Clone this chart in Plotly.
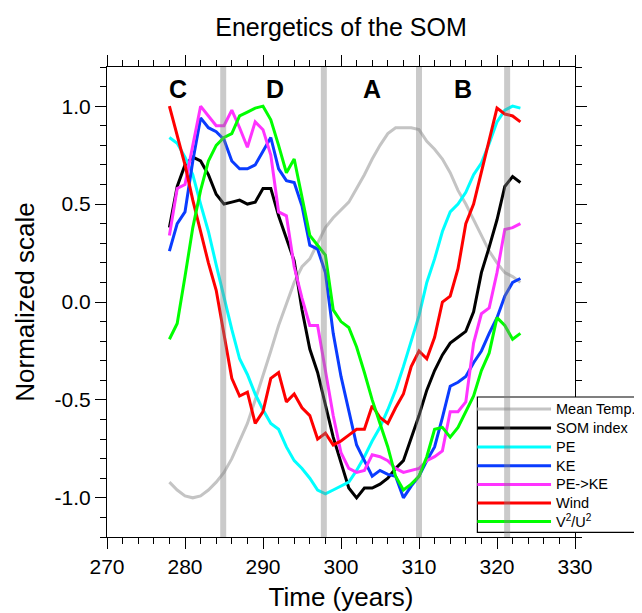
import plotly.graph_objects as go

# annual data, years 278..323
years = [278, 279, 280, 281, 282, 283, 284, 285, 286, 287,
         288, 289, 290, 291, 292, 293, 294, 295, 296, 297,
         298, 299, 300, 301, 302, 303, 304, 305, 306, 307,
         308, 309, 310, 311, 312, 313, 314, 315, 316, 317,
         318, 319, 320, 321, 322, 323]

mean_temp = [-0.92, -0.96, -0.99, -1.00, -0.99, -0.96, -0.92, -0.87, -0.80, -0.71,
             -0.62, -0.50, -0.38, -0.25, -0.12, -0.01, 0.10, 0.18, 0.22, 0.30,
             0.38, 0.43, 0.47, 0.51, 0.58, 0.65, 0.73, 0.80, 0.86, 0.89,
             0.89, 0.89, 0.88, 0.82, 0.78, 0.73, 0.66, 0.57, 0.50, 0.42,
             0.34, 0.26, 0.20, 0.15, 0.13, 0.10]
som_index = [0.38, 0.59, 0.70, 0.74, 0.72, 0.65, 0.55, 0.50, 0.51, 0.52,
             0.50, 0.51, 0.58, 0.58, 0.44, 0.32, 0.21, -0.04, -0.24, -0.36,
             -0.52, -0.69, -0.82, -0.95, -1.00, -0.95, -0.95, -0.93, -0.90, -0.85,
             -0.81, -0.70, -0.58, -0.45, -0.35, -0.27, -0.21, -0.18, -0.15, -0.05,
             0.15, 0.28, 0.42, 0.59, 0.64, 0.61]
pe = [0.84, 0.81, 0.74, 0.65, 0.50, 0.36, 0.19, 0.02, -0.14, -0.29,
      -0.37, -0.47, -0.55, -0.62, -0.65, -0.74, -0.81, -0.85, -0.90, -0.96,
      -0.98, -0.96, -0.94, -0.92, -0.86, -0.79, -0.71, -0.64, -0.55, -0.45,
      -0.33, -0.20, -0.07, 0.10, 0.22, 0.36, 0.46, 0.50, 0.56, 0.65,
      0.71, 0.81, 0.92, 0.98, 1.00, 0.99]
ke = [0.26, 0.40, 0.46, 0.72, 0.94, 0.89, 0.87, 0.83, 0.72, 0.68,
      0.68, 0.70, 0.77, 0.84, 0.68, 0.62, 0.61, 0.49, 0.29, 0.27,
      0.15, -0.16, -0.38, -0.56, -0.73, -0.81, -0.89, -0.86, -0.88, -0.89,
      -1.00, -0.94, -0.89, -0.81, -0.74, -0.59, -0.43, -0.41, -0.38, -0.31,
      -0.25, -0.16, -0.08, 0.03, 0.10, 0.12]
pe_ke = [0.34, 0.58, 0.60, 0.80, 1.00, 0.95, 0.90, 0.90, 0.98, 0.89,
         0.79, 0.92, 0.88, 0.75, 0.46, 0.44, 0.18, 0.02, -0.12, -0.12,
         -0.36, -0.58, -0.77, -0.85, -0.87, -0.86, -0.78, -0.79, -0.81, -0.85,
         -0.87, -0.86, -0.85, -0.81, -0.79, -0.76, -0.56, -0.56, -0.51, -0.21,
         -0.06, -0.03, 0.15, 0.37, 0.38, 0.40]
wind = [1.00, 0.85, 0.70, 0.52, 0.36, 0.20, 0.06, -0.16, -0.39, -0.48,
        -0.46, -0.62, -0.56, -0.39, -0.36, -0.51, -0.47, -0.54, -0.58, -0.70,
        -0.67, -0.73, -0.71, -0.68, -0.65, -0.65, -0.53, -0.59, -0.62, -0.54,
        -0.47, -0.33, -0.25, -0.29, -0.18, 0.00, 0.03, 0.17, 0.40, 0.50,
        0.66, 0.83, 0.99, 0.96, 0.95, 0.92]
v2u2 = [-0.19, -0.11, 0.13, 0.38, 0.57, 0.72, 0.80, 0.84, 0.86, 0.95,
        0.97, 0.99, 1.00, 0.93, 0.80, 0.66, 0.73, 0.54, 0.34, 0.29,
        0.24, -0.04, -0.10, -0.13, -0.23, -0.36, -0.50, -0.62, -0.74, -0.89,
        -0.96, -0.93, -0.89, -0.79, -0.65, -0.64, -0.69, -0.64, -0.56, -0.48,
        -0.35, -0.26, -0.08, -0.12, -0.19, -0.16]

series_names = ["Mean Temp.", "SOM index", "PE", "KE", "PE->KE", "Wind", "V<sup>2</sup>/U<sup>2</sup>"]
series_values = [mean_temp, som_index, pe, ke, pe_ke, wind, v2u2]
series_colors = ["#c4c4c4", "black", "#00ffff", "#0a3cff", "#ff33ff", "#ff0000", "#00ff00"]

# phase labels and phase boundaries
phase_labels = ["C", "D", "A", "B"]
phase_x = [279.1, 291.6, 304.0, 315.7]
phase_y = 1.087
band_x = [284.9, 297.8, 310.0, 321.3]

y_ticks = [-1.0, -0.5, 0.0, 0.5, 1.0]
y_ticktext = ["-1.0", "-0.5", "0.0", "0.5", "1.0"]

FONT = "Liberation Sans, Arial, Helvetica, sans-serif"

fig = go.Figure()
for name, vals, col in zip(series_names, series_values, series_colors):
    fig.add_trace(go.Scatter(x=years, y=vals, mode="lines", name=name,
                             line=dict(color=col, width=3), showlegend=False))

for lab, px in zip(phase_labels, phase_x):
    fig.add_annotation(x=px, y=phase_y, text="<b>" + lab + "</b>", showarrow=False,
                       font=dict(family=FONT, size=25, color="black"))

# legend drawn by hand so the grey band can run across it
leg_x0, leg_x1, leg_xt = 0.7914, 0.9488, 0.9580
leg_rows = [0.2723, 0.2319, 0.1915, 0.1517, 0.1119, 0.0723, 0.0332]
fig.add_shape(type="rect", xref="paper", yref="paper", x0=leg_x0, x1=1.25,
              y0=0.0098, y1=0.2979, fillcolor="white",
              line=dict(color="black", width=1.2), layer="above")
for name, col, ry in zip(series_names, series_colors, leg_rows):
    fig.add_shape(type="line", xref="paper", yref="paper", x0=leg_x0, x1=leg_x1,
                  y0=ry, y1=ry, line=dict(color=col, width=3), layer="above")
    fig.add_annotation(xref="paper", yref="paper", x=leg_xt, y=ry, text=name,
                       xanchor="left", yanchor="middle", showarrow=False, borderpad=0,
                       font=dict(family=FONT, size=14.5, color="black"))

for bx in band_x:
    fig.add_shape(type="line", xref="x", yref="y", x0=bx, x1=bx, y0=-1.2, y1=1.2,
                  line=dict(color="rgba(128,128,128,0.42)", width=6), layer="above")

axis_common = dict(showline=True, linecolor="black", linewidth=1.2, mirror="ticks",
                   ticks="outside", ticklen=11, tickwidth=1.2, tickcolor="black",
                   showgrid=False, zeroline=False,
                   tickfont=dict(family=FONT, size=21, color="black"))

fig.update_xaxes(range=[270, 330], tick0=270, dtick=10,
                 minor=dict(dtick=2, tick0=270, ticks="outside", ticklen=6,
                            tickwidth=1.2, tickcolor="black", showgrid=False),
                 title=dict(text="Time (years)", standoff=10,
                            font=dict(family=FONT, size=26, color="black")),
                 **axis_common)
fig.update_yaxes(range=[-1.2, 1.2], tickmode="array", tickvals=y_ticks, ticktext=y_ticktext,
                 minor=dict(dtick=0.1, tick0=0, ticks="outside", ticklen=6,
                            tickwidth=1.2, tickcolor="black", showgrid=False),
                 title=dict(text="Normalized scale", standoff=12,
                            font=dict(family=FONT, size=26, color="black")),
                 **axis_common)

# the page body adds an 8px offset, so the figure is 8px smaller each way
fig.update_layout(
    width=634, height=605,
    margin=dict(l=99, r=67, t=59, b=76, autoexpand=False),
    plot_bgcolor="white", paper_bgcolor="white",
    title=dict(text="Energetics of the SOM", x=0.5, xref="paper", xanchor="center",
               y=1 - 19 / 605, yref="container", yanchor="middle",
               font=dict(family=FONT, size=25, color="black")),
    showlegend=False,
)

fig.write_html("out.html")
